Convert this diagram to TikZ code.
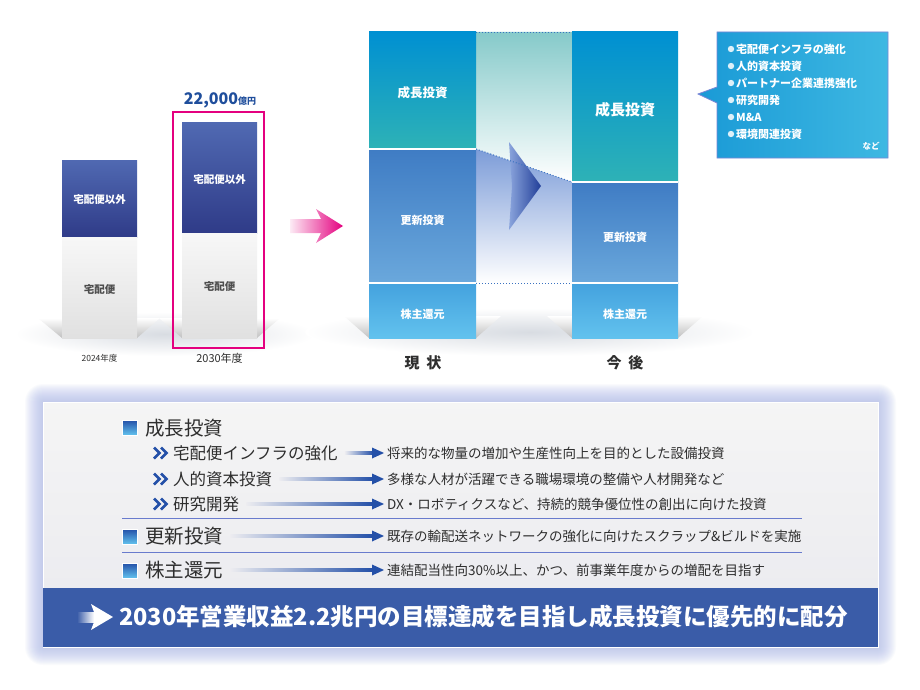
\documentclass[tikz,border=0pt]{standalone}
\usepackage{fontspec}
\setmainfont{Noto Sans CJK JP}
\usetikzlibrary{calc}
\definecolor{navyA}{HTML}{5069B2}
\definecolor{navyB}{HTML}{2F3B88}
\definecolor{pinkF}{HTML}{E4007F}
\definecolor{titleblue}{HTML}{1F4E9C}
\definecolor{growA}{HTML}{0090D2}
\definecolor{growB}{HTML}{2EB2B6}
\definecolor{renA}{HTML}{3F7CC4}
\definecolor{renB}{HTML}{6AA8DC}
\definecolor{shA}{HTML}{44A2DE}
\definecolor{shB}{HTML}{62C2EE}
\definecolor{gapteal}{HTML}{86CACA}
\definecolor{gapblue}{HTML}{7C9CD8}
\definecolor{dotblue}{HTML}{3A72C0}
\definecolor{callA}{HTML}{1A9AD6}
\definecolor{callB}{HTML}{3EB8E2}
\definecolor{callE}{HTML}{7A86D6}
\definecolor{glow}{HTML}{AEBAEA}
\definecolor{band}{HTML}{3A5CA8}
\definecolor{txt}{HTML}{2E2E2E}
\definecolor{arr}{HTML}{2450A8}
\definecolor{panelbg}{HTML}{ECECF0}
\definecolor{floorg}{HTML}{D8DCE2}
\definecolor{chevL}{HTML}{8AA4DC}
\definecolor{chevR}{HTML}{213E98}
\newcommand\lowarr[2]{%
  \shade[left color=panelbg, right color=arr] ([xshift=7pt,yshift=-1.6pt]#1.east) rectangle ([xshift=-14pt,yshift=1.6pt]#2.west);
  \fill[arr] ([xshift=-15pt,yshift=-5.5pt]#2.west) -- ([xshift=-3pt]#2.west) -- ([xshift=-15pt,yshift=5.5pt]#2.west) -- cycle;}
\tikzset{
  lbl/.style={inner sep=0pt, font=\bfseries\fontsize{10.5}{11}\selectfont},
  wlbl/.style={lbl, text=white},
  colt/.style={inner sep=0pt, text=white, font=\bfseries\fontsize{11}{12}\selectfont},
  callt/.style={inner sep=0pt, anchor=west, text=white, font=\bfseries\fontsize{11}{12}\selectfont},
  hd/.style={inner sep=0pt, anchor=west, text=txt, font=\fontsize{19.5}{20}\selectfont},
  sb/.style={inner sep=0pt, anchor=west, text=txt, font=\fontsize{16.5}{17}\selectfont},
  ds/.style={inner sep=0pt, anchor=west, text=txt, font=\fontsize{13.5}{14}\selectfont},
  sq/.style={top color=arr, bottom color=shB, draw=white, line width=0.6pt},
  chev/.style={arr, line width=2.6pt, line join=miter, line cap=butt},
  sepline/.style={draw=callE!80!arr, line width=0.8pt},
  tri/.style={top color=white, bottom color=gray!50},
}
\begin{document}
\begin{tikzpicture}[x=1pt,y=-1pt]
\useasboundingbox (0,0) rectangle (920,690);
\fill[white] (0,0) rectangle (920,690);

% ---------- floors ----------
\shade[inner color=floorg, outer color=white] (165,334) ellipse (150 and 22);
\shade[inner color=floorg, outer color=white] (530,332) ellipse (225 and 24);
\shade[tri] (38,318) -- (62,318) -- (62,338) -- cycle;
\shade[tri] (137,318) -- (160,318) -- (137,338) -- cycle;
\shade[tri] (159,318) -- (182,318) -- (182,338) -- cycle;
\shade[tri] (257,318) -- (280,318) -- (257,338) -- cycle;
\shade[tri] (344,316) -- (369,316) -- (369,338) -- cycle;
\shade[tri] (476,316) -- (501,316) -- (476,338) -- cycle;
\shade[tri] (547,316) -- (572,316) -- (572,338) -- cycle;
\shade[tri] (678,316) -- (703,316) -- (678,338) -- cycle;

% ---------- left bars ----------
\shade[top color=navyA, bottom color=navyB] (62,160) rectangle (137,237);
\shade[top color=white!97!black, bottom color=white!88!black] (62,237) rectangle (137,338);
\shade[top color=navyA, bottom color=navyB] (182,123) rectangle (257,233);
\shade[top color=white!97!black, bottom color=white!88!black] (182,233) rectangle (257,338);
\node[wlbl] (b1top) at (99.5,200) {宅配便以外};
\node[lbl, text=txt!85] (b1bot) at (99.5,290) {宅配便};
\node[wlbl] (b2top) at (219.5,180) {宅配便以外};
\node[lbl, text=txt!85] (b2bot) at (219.5,287) {宅配便};
\draw[pinkF, line width=2pt] (173,112) rectangle (264,348);
\node[inner sep=0pt, text=titleblue, font=\bfseries] (total) at (220,100)
  {{\fontsize{16}{16}\selectfont 22,000}{\fontsize{9}{9}\selectfont 億円}};
\node[inner sep=0pt, text=txt, font=\fontsize{8.5}{9}\selectfont] (y24) at (99.5,358) {2024年度};
\node[inner sep=0pt, text=txt, font=\fontsize{11}{12}\selectfont] (y30) at (219.5,358) {2030年度};

% ---------- pink arrow ----------
\shade[left color=pinkF!8, right color=pinkF]
  (290,219) -- (321,219) -- (316,209) -- (343,226) -- (316,243) -- (321,233) -- (290,233) -- cycle;

% ---------- middle chart ----------
\shade[top color=gapteal, bottom color=white] (476,32) -- (572,32) -- (572,182) -- (476,149) -- cycle;
\shade[top color=gapblue, bottom color=white] (476,149) -- (572,182) -- (572,283) -- (476,283) -- cycle;
\shade[left color=chevL, right color=chevR] (509,142) -- (541,186) -- (509,230) -- (512,186) -- cycle;
\draw[dotblue, dotted, line width=1pt] (476,32.5) -- (572,32.5);
\draw[dotblue, dotted, line width=1pt] (476,149) -- (572,182);
\draw[dotblue, dotted, line width=1pt] (476,283) -- (572,283);

\shade[top color=growA, bottom color=growB] (369,32) rectangle (476,149);
\shade[top color=renA, bottom color=renB] (369,149) rectangle (476,283);
\shade[top color=shA, bottom color=shB] (369,283) rectangle (476,338);
\shade[top color=growA, bottom color=growB] (572,32) rectangle (678,182);
\shade[top color=renA, bottom color=renB] (572,182) rectangle (678,283);
\shade[top color=shA, bottom color=shB] (572,283) rectangle (678,338);
\draw[white, line width=1.2pt] (369,149) -- (476,149) (369,283) -- (476,283);
\draw[white, line width=1.2pt] (572,182) -- (678,182) (572,283) -- (678,283);

\node[colt, font=\bfseries\fontsize{12.5}{13}\selectfont] (cgA) at (422.5,93) {成長投資};
\node[colt] (crA) at (422.5,220) {更新投資};
\node[colt] (csA) at (422.5,314) {株主還元};
\node[colt, font=\bfseries\fontsize{15}{16}\selectfont] (cgB) at (625,110) {成長投資};
\node[colt] (crB) at (625,237) {更新投資};
\node[colt] (csB) at (625,314) {株主還元};
\node[inner sep=0pt, text=txt, font=\bfseries\fontsize{15}{16}\selectfont] (now) at (423,363) {現\hspace{7pt}状};
\node[inner sep=0pt, text=txt, font=\bfseries\fontsize{15}{16}\selectfont] (fut) at (625,363) {今\hspace{7pt}後};

% ---------- callout ----------
\shade[left color=callA, right color=callB, draw=callE, line width=0.8pt]
  (717,32) -- (888,32) -- (888,158) -- (717,158) -- (717,103) -- (698,94) -- (717,87) -- cycle;
\foreach \yy in {49,66,83,100,117,134} \fill[white!85!callA] (731,\yy) circle (3.2);
\node[callt] (ci1) at (736,49) {宅配便インフラの強化};
\node[callt] (ci2) at (736,66) {人的資本投資};
\node[callt] (ci3) at (736,83) {パートナー企業連携強化};
\node[callt] (ci4) at (736,100) {研究開発};
\node[callt] (ci5) at (736,117) {M\&A};
\node[callt] (ci6) at (736,134) {環境関連投資};
\node[inner sep=0pt, text=white, font=\bfseries\fontsize{8.5}{9}\selectfont] (cnd) at (871,146) {など};

% ---------- lower panel ----------
\foreach \i in {1,...,18}
  \fill[glow, opacity=0.06, rounded corners=\i pt] (43-\i,402-\i) rectangle (878+\i,647+\i);
\shade[top color=white!96!black, bottom color=panelbg] (43,402) rectangle (878,588);
\draw[white, line width=0.8pt] (43,402) rectangle (878,647);
\fill[band] (43,588) rectangle (878,647);

\shade[sq] (122,420) rectangle (137,435);
\node[hd] (hdA) at (145,428) {成長投資};
\draw[chev] (154,447.5) -- (159.5,453) -- (154,458.5) (161,447.5) -- (166.5,453) -- (161,458.5);
\node[sb] (sbA) at (173,453) {宅配便インフラの強化};
\node[ds] (dsA) at (387,453) {将来的な物量の増加や生産性向上を目的とした設備投資};
\draw[chev] (154,473.5) -- (159.5,479) -- (154,484.5) (161,473.5) -- (166.5,479) -- (161,484.5);
\node[sb] (sbB) at (173,479) {人的資本投資};
\node[ds] (dsB) at (387,479) {多様な人材が活躍できる職場環境の整備や人材開発など};
\draw[chev] (154,498.5) -- (159.5,504) -- (154,509.5) (161,498.5) -- (166.5,504) -- (161,509.5);
\node[sb] (sbC) at (173,504) {研究開発};
\node[ds] (dsC) at (387,504) {DX・ロボティクスなど、持続的競争優位性の創出に向けた投資};
\draw[sepline] (122,518) -- (802,518);
\shade[sq] (122,529) rectangle (137,544);
\node[hd] (hdB) at (145,536) {更新投資};
\node[ds] (dsD) at (387,536) {既存の輸配送ネットワークの強化に向けたスクラップ\&ビルドを実施};
\draw[sepline] (122,552) -- (802,552);
\shade[sq] (122,563) rectangle (137,578);
\node[hd] (hdC) at (145,570) {株主還元};
\node[ds] (dsE) at (387,570) {連結配当性向30\%以上、かつ、前事業年度からの増配を目指す};

\lowarr{sbA}{dsA}
\lowarr{sbB}{dsB}
\lowarr{sbC}{dsC}
\lowarr{hdB}{dsD}
\lowarr{hdC}{dsE}

% ---------- band ----------
\shade[left color=band, right color=white] (77,612) rectangle (94,622);
\fill[white] (91,604) -- (113,617) -- (91,630) -- (94,622) -- (94,612) -- cycle;
\node[inner sep=0pt, anchor=west, text=white, font=\bfseries\fontsize{23.5}{24}\selectfont] (goal) at (119,617)
  {2030年営業収益2.2兆円の目標達成を目指し成長投資に優先的に配分};
\end{tikzpicture}
\end{document}
